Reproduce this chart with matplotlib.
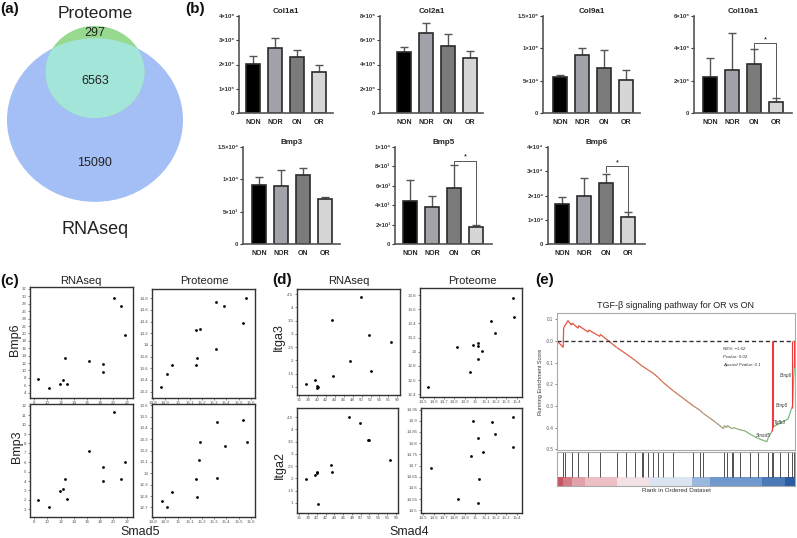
import numpy as np
import matplotlib
matplotlib.use('Agg')
import matplotlib.pyplot as plt
from matplotlib.patches import Ellipse
from matplotlib.collections import LineCollection
from matplotlib.colors import LinearSegmentedColormap, Normalize

plt.rcParams['font.family'] = ['Liberation Sans', 'DejaVu Sans']

# ---------------- data ----------------
# (a) Venn counts
venn_only_prot = 297
venn_both = 6563
venn_only_rna = 15090

# (b) bar charts
groups = ['NON', 'NOR', 'ON', 'OR']
col1a1_mean = [2.02e6, 2.70e6, 2.30e6, 1.71e6]
col1a1_sd = [0.33e6, 0.39e6, 0.29e6, 0.26e6]
col2a1_mean = [5.05e6, 6.60e6, 5.55e6, 4.50e6]
col2a1_sd = [0.40e6, 0.85e6, 0.95e6, 0.60e6]
col9a1_mean = [5.60e4, 8.90e4, 6.95e4, 5.15e4]
col9a1_sd = [0.35e4, 1.20e4, 2.85e4, 1.55e4]
col10a1_mean = [2.20e6, 2.66e6, 3.06e6, 0.70e6]
col10a1_sd = [1.22e6, 2.27e6, 0.89e6, 0.22e6]
bmp3_mean = [9.1e3, 8.9e3, 1.07e4, 6.9e3]
bmp3_sd = [1.2e3, 2.6e3, 1.1e3, 0.4e3]
bmp5_mean = [4.40e3, 3.85e3, 5.80e3, 1.72e3]
bmp5_sd = [2.20e3, 1.10e3, 2.30e3, 0.21e3]
bmp6_mean = [1.65e4, 1.98e4, 2.50e4, 1.10e4]
bmp6_sd = [0.30e4, 0.74e4, 0.40e4, 0.20e4]

# (c) Smad5 correlations
c_rna_smad5 = [8.6, 10.2, 11.9, 12.4, 12.7, 13.0, 16.3, 18.4, 18.45, 20.1, 21.1, 21.7]
c_rna_bmp6 = [7.7, 5.2, 6.35, 7.4, 13.5, 6.35, 12.5, 11.7, 9.6, 29.7, 27.4, 19.5]
c_rna_bmp3 = [2.0, 1.2, 2.9, 3.15, 4.25, 2.1, 7.25, 5.5, 4.0, 11.3, 4.25, 6.0]
c_prot_smad5_a = [14.863, 14.91, 14.95, 15.15, 15.16, 15.155, 15.18, 15.316, 15.38, 15.56, 15.535, 15.316]
c_prot_bmp6 = [13.275, 13.5, 13.66, 13.66, 13.77, 14.25, 14.28, 14.74, 14.66, 14.8, 14.37, 13.93]
c_prot_smad5_b = [14.868, 14.917, 14.958, 15.158, 15.15, 15.175, 15.185, 15.322, 15.54, 15.39, 15.568, 15.322]
c_prot_bmp3 = [12.755, 12.70, 12.84, 12.79, 12.95, 13.12, 13.28, 13.45, 13.47, 13.24, 13.28, 12.96]

# (d) Smad4 correlations
d_rna_smad4 = [37.5, 39.6, 39.96, 40.1, 40.3, 43.3, 43.5, 47.3, 49.9, 51.7, 52.0, 56.65]
d_rna_itga3 = [1.09, 1.24, 0.97, 1.02, 1.0, 3.53, 1.42, 1.98, 4.37, 2.95, 1.6, 2.69]
d_rna_itga2 = [1.97, 2.13, 2.2, 2.27, 0.93, 2.55, 2.27, 4.53, 4.26, 3.57, 3.55, 2.75]
d_prot_smad4_a = [14.542, 14.822, 14.95, 14.982, 15.025, 15.025, 15.07, 15.025, 15.153, 15.19, 15.37, 15.375]
d_prot_itga3 = [12.495, 13.06, 12.71, 13.10, 13.13, 13.08, 13.01, 12.89, 13.44, 13.27, 13.76, 13.49]
d_prot_smad4_b = [14.574, 14.838, 14.96, 14.982, 15.03, 15.037, 15.03, 15.073, 15.16, 15.19, 15.368, 15.368]
d_prot_itga2 = [14.69, 14.552, 14.743, 14.898, 14.821, 14.639, 14.533, 14.759, 14.895, 14.843, 14.917, 14.784]

# (e) GSEA
gsea_rank = [0, 26, 28, 46, 61, 63, 89, 91, 131, 133, 180, 182, 250, 290, 328, 356, 384, 405,
             426, 444, 488, 573, 601, 615, 660, 700, 703, 713, 716, 734, 741, 769, 790, 811,
             846, 882, 888, 902, 909, 937, 971, 986, 990, 995, 998, 1000]
gsea_score = [0.0, -0.03, 0.06, 0.093, 0.072, 0.082, 0.058, 0.07, 0.04, 0.05, 0.02, 0.03, -0.03,
              -0.06, -0.09, -0.115, -0.135, -0.15, -0.17, -0.19, -0.23, -0.30, -0.32, -0.335,
              -0.37, -0.405, -0.39, -0.40, -0.39, -0.405, -0.40, -0.41, -0.415, -0.43, -0.45,
              -0.465, -0.445, -0.42, -0.395, -0.38, -0.36, -0.31, -0.30, -0.16, -0.10, 0.0]
gsea_hits = [26, 34, 62, 90, 131, 181, 251, 290, 328, 356, 363, 384, 405, 426, 444, 488, 573,
             601, 615, 702, 713, 734, 741, 769, 811, 846, 888, 902, 909, 937, 972, 986, 997]
heat_edges = [0, 25, 63, 118, 252, 391, 567, 643, 861, 958, 1000]
heat_values = [0.9, 0.7, 0.5, 0.35, 0.12, -0.08, -0.3, -0.5, -0.7, -0.9]
lead_genes = ['Smad5', 'Tgfb3', 'Bmp5', 'Bmp6']
lead_ranks = [903, 909, 987, 997]
nes_text = ['NES: \u22121.62', 'Pvalue: 0.02', 'Ajusted Pvalue: 0.1']

# ---------------- figure ----------------
W, H = 797, 538
fig = plt.figure(figsize=(W / 100, H / 100), dpi=100)


def add_ax(x0, y0, x1, y1):
    return fig.add_axes([x0 / W, 1 - y1 / H, (x1 - x0) / W, (y1 - y0) / H])


ov = fig.add_axes([0, 0, 1, 1])
ov.set_xlim(0, W)
ov.set_ylim(H, 0)
ov.axis('off')
ov.set_zorder(10)

# ---- (a) Venn ----
tot_p = venn_only_prot + venn_both
tot_r = venn_both + venn_only_rna
K = 88 / np.sqrt(tot_r)
rr, rp = K * np.sqrt(tot_r), K * np.sqrt(tot_p)
sq = 0.93
blue = Ellipse((95, 120), 2 * rr, 2 * rr * sq, fc='#a4bff5', ec='none')
green = Ellipse((95, 72), 2 * rp, 2 * rp * sq, fc='#96d98f', ec='none')
teal = Ellipse((95, 72), 2 * rp, 2 * rp * sq, fc='#a3e6d9', ec='none')
for p in (blue, green, teal):
    ov.add_patch(p)
teal.set_clip_path(blue)
tc = '#222222'
ov.text(95, 14, 'Proteome', fontsize=12.5, ha='center', va='center', color=tc)
ov.text(95, 33, f'{venn_only_prot}', fontsize=9, ha='center', va='center', color=tc)
ov.text(95, 81, f'{venn_both}', fontsize=9, ha='center', va='center', color=tc)
ov.text(95, 163, f'{venn_only_rna}', fontsize=9, ha='center', va='center', color=tc)
ov.text(95, 230, 'RNAseq', fontsize=13, ha='center', va='center', color=tc)

for lab, x, y in [('(a)', 0, 9), ('(b)', 185, 9), ('(c)', 0, 281), ('(d)', 272, 280), ('(e)', 535, 280)]:
    ov.text(x, y, lab, fontsize=11, fontweight='bold', ha='left', va='center', color='#111')

# ---- (b) bar charts ----
SUP = str.maketrans('0123456789-', '\u2070\u00b9\u00b2\u00b3\u2074\u2075\u2076\u2077\u2078\u2079\u207b')


def sci(v):
    if v == 0:
        return '0'
    e = int(np.floor(np.log10(v) + 1e-9))
    m = v / 10 ** e
    return f'{m:g}\u00d710' + str(e).translate(SUP)


bar_colors = ['#000000', '#a2a2aa', '#7b7b7b', '#d6d6d6']
bar_panels = [
    ('Col1a1', col1a1_mean, col1a1_sd, [0, 1e6, 2e6, 3e6, 4e6], None, 239, 333, 253, 16, 113),
    ('Col2a1', col2a1_mean, col2a1_sd, [0, 2e6, 4e6, 6e6, 8e6], None, 380, 483, 404, 16, 113),
    ('Col9a1', col9a1_mean, col9a1_sd, [0, 5e4, 1e5, 1.5e5], None, 543, 640, 560, 16, 113),
    ('Col10a1', col10a1_mean, col10a1_sd, [0, 2e6, 4e6, 6e6], (2, 3, 4.31e6, 4.0e6, 0.98e6), 694, 792, 710, 16, 113),
    ('Bmp3', bmp3_mean, bmp3_sd, [0, 5e3, 1e4, 1.5e4], None, 243, 340, 259, 147, 244),
    ('Bmp5', bmp5_mean, bmp5_sd, [0, 2e3, 4e3, 6e3, 8e3, 1e4], (2, 3, 8.6e3, 8.2e3, 2.0e3), 395, 492, 410, 147, 244),
    ('Bmp6', bmp6_mean, bmp6_sd, [0, 1e4, 2e4, 3e4, 4e4], (2, 3, 3.2e4, 2.95e4, 1.35e4), 548, 645, 562, 147, 244),
]
for name, mean, sd, yt, sig, x0, x1, c0, yt_px, yb_px in bar_panels:
    ax = add_ax(x0, yt_px, x1, yb_px)
    xs = np.arange(len(groups))
    ax.errorbar(xs, mean, yerr=[np.zeros(len(sd)), sd], fmt='none', ecolor='#555555',
                elinewidth=1.0, capsize=3.2, capthick=1.0, zorder=1)
    ax.bar(xs, mean, width=0.68, color=bar_colors, edgecolor='#2b2b2b', linewidth=1.2, zorder=2)
    ax.set_xlim((x0 - c0) / 22, (x1 - c0) / 22)
    ax.set_ylim(0, yt[-1])
    ax.set_yticks(yt, [sci(v) for v in yt])
    ax.set_xticks(xs, groups)
    ax.tick_params(axis='y', labelsize=4.2, length=2, width=0.8, pad=1.2, colors='#333333')
    ax.tick_params(axis='x', labelsize=5, length=0, pad=4, colors='#222222')
    for lab in ax.get_xticklabels() + ax.get_yticklabels():
        lab.set_fontweight('bold')
    for s in ('top', 'right'):
        ax.spines[s].set_visible(False)
    for s in ('left', 'bottom'):
        ax.spines[s].set_color('#555555')
        ax.spines[s].set_linewidth(1.2)
    ax.set_title(name, fontsize=5.8, fontweight='bold', pad=2.5, color='#222')
    if sig:
        i, j, ly, ld, rd = sig
        ax.plot([i, i, j, j], [ld, ly, ly, rd], color='#555555', lw=0.7, clip_on=False)
        ax.text((i + j) / 2, ly, '*', ha='center', va='bottom', fontsize=5.5)


# ---- (c), (d) scatter panels ----
def scatter_panel(box, x, y, xlim, ylim, xticks, yticks):
    ax = add_ax(*box)
    ax.scatter(x, y, s=4, c='k', linewidths=0)
    ax.set_xlim(*xlim)
    ax.set_ylim(*ylim)
    xt = np.round(xticks, 3)
    yt = np.round(yticks, 3)
    ax.set_xticks(xt, [f'{v:g}' for v in xt])
    ax.set_yticks(yt, [f'{v:g}' for v in yt])
    ax.tick_params(labelsize=3.2, length=1.5, width=0.5, pad=1, colors='#555555')
    for sp in ax.spines.values():
        sp.set_color('#333333')
        sp.set_linewidth(1.0)
    return ax


scatter_panel((30, 287, 133, 398), c_rna_smad5, c_rna_bmp6, (7.35, 22.96), (2.57, 32.54),
              np.arange(8, 23, 2), np.arange(4, 33, 2))
scatter_panel((30, 404, 133, 517), c_rna_smad5, c_rna_bmp3, (7.35, 22.96), (0.18, 12.2),
              np.arange(8, 23, 2), np.arange(1, 13, 1))
scatter_panel((152, 289, 255, 398), c_prot_smad5_a, c_prot_bmp6, (14.79, 15.635), (13.09, 14.96),
              np.arange(14.8, 15.65, 0.1), np.arange(13.2, 14.85, 0.2))
scatter_panel((152, 404, 255, 517), c_prot_smad5_b, c_prot_bmp3, (14.79, 15.635), (12.616, 13.61),
              np.arange(14.8, 15.65, 0.1), np.arange(12.7, 13.65, 0.1))
scatter_panel((297, 289, 400, 395), d_rna_smad4, d_rna_itga3, (35.55, 58.6), (0.69, 4.69),
              np.arange(36, 59, 2), np.arange(1, 4.6, 0.5))
scatter_panel((297, 408, 398, 513), d_rna_smad4, d_rna_itga2, (35.47, 58.5), (0.58, 4.88),
              np.arange(36, 59, 2), np.arange(1, 4.6, 0.5))
scatter_panel((420, 288, 522, 397), d_prot_smad4_a, d_prot_itga3, (14.468, 15.452), (12.36, 13.9),
              np.arange(14.5, 15.45, 0.1), np.arange(12.4, 13.85, 0.2))
scatter_panel((421, 408, 522, 513), d_prot_smad4_b, d_prot_itga2, (14.478, 15.452), (14.488, 14.957),
              np.arange(14.5, 15.45, 0.1), np.arange(14.5, 14.96, 0.05))

for s, x, y in [('RNAseq', 81, 281), ('Proteome', 204, 281), ('RNAseq', 349, 281), ('Proteome', 472, 281)]:
    ov.text(x, y, s, fontsize=8, ha='center', va='center', color='#222')
for s, x, y in [('Bmp6', 15, 340), ('Bmp3', 17, 447), ('Itga3', 279, 337), ('Itga2', 280, 465)]:
    ov.text(x, y, s, fontsize=9, ha='center', va='center', rotation=90, color='#222')
ov.text(140, 532, 'Smad5', fontsize=9, ha='center', va='center', color='#222')
ov.text(409, 532, 'Smad4', fontsize=9, ha='center', va='center', color='#222')

# ---- (e) GSEA ----
ov.text(676, 306, 'TGF-\u03b2 signaling pathway for OR vs ON', fontsize=6.5, ha='center', va='center', color='#222')
gax = add_ax(557, 313, 795, 450)
r = np.array(gsea_rank, float)
sc = np.array(gsea_score, float)
segs = np.stack([np.column_stack([r[:-1], sc[:-1]]), np.column_stack([r[1:], sc[1:]])], axis=1)
curve_cmap = LinearSegmentedColormap.from_list(
    'rg', [(0, '#ef4a3c'), (0.45, '#d0704f'), (0.62, '#b59070'), (0.78, '#8fae7f'), (1, '#6fbf7a')])
lc = LineCollection(segs, cmap=curve_cmap, norm=Normalize(0, 1000), linewidths=0.9)
lc.set_array((r[:-1] + r[1:]) / 2)
gax.add_collection(lc)
gax.axhline(0, color='#333333', lw=1.0, ls=(0, (3, 2)))
lead_scores = np.interp(lead_ranks, r, sc)
gax.vlines(lead_ranks, lead_scores, 0, color='#ee3b3b', lw=0.8)
for g, xx, yy, ha in zip(lead_genes, [900, 910, 972, 988], [-0.435, -0.375, -0.30, -0.16],
                         ['right', 'left', 'right', 'right']):
    gax.text(xx, yy, g, fontsize=3.3, style='italic', ha=ha, va='center', color='#333')
for k, t in enumerate(nes_text):
    gax.text(697, -0.038 - 0.037 * k, t, fontsize=3.2, style='italic', ha='left', va='center', color='#333')
gax.set_xlim(0, 1000)
gax.set_ylim(-0.503, 0.128)
gax.set_xticks([])
yt = np.round(np.arange(-0.5, 0.15, 0.1), 1)
gax.set_yticks(yt, [f'{v:.1f}' for v in yt])
gax.tick_params(axis='y', labelsize=3.3, length=1.5, width=0.5, pad=1, colors='#555555')
gax.set_ylabel('Running Enrichment Score', fontsize=4, labelpad=2, color='#333')
for sp in gax.spines.values():
    sp.set_color('#aaaaaa')
    sp.set_linewidth(0.8)

rax = add_ax(557, 452, 795, 486)
rax.set_xlim(0, 1000)
rax.set_ylim(0, 1)
rax.vlines(gsea_hits, 0.265, 1, color='#333333', lw=0.6)
heat_cmap = LinearSegmentedColormap.from_list(
    'hb', [(0, '#1f4e96'), (0.2, '#5b88c4'), (0.35, '#9ab8de'), (0.5, '#f4f4f8'),
           (0.65, '#eec8cc'), (0.8, '#d98f97'), (1, '#c04652')])
rax.pcolormesh(heat_edges, [0, 0.265], [heat_values], cmap=heat_cmap, vmin=-1, vmax=1)
rax.set_xticks([])
rax.set_yticks([])
rax.set_xlabel('Rank in Ordered Dataset', fontsize=4.5, labelpad=1.5, color='#333')
for sp in rax.spines.values():
    sp.set_color('#aaaaaa')
    sp.set_linewidth(0.8)

fig.savefig('out.png', dpi=100)
